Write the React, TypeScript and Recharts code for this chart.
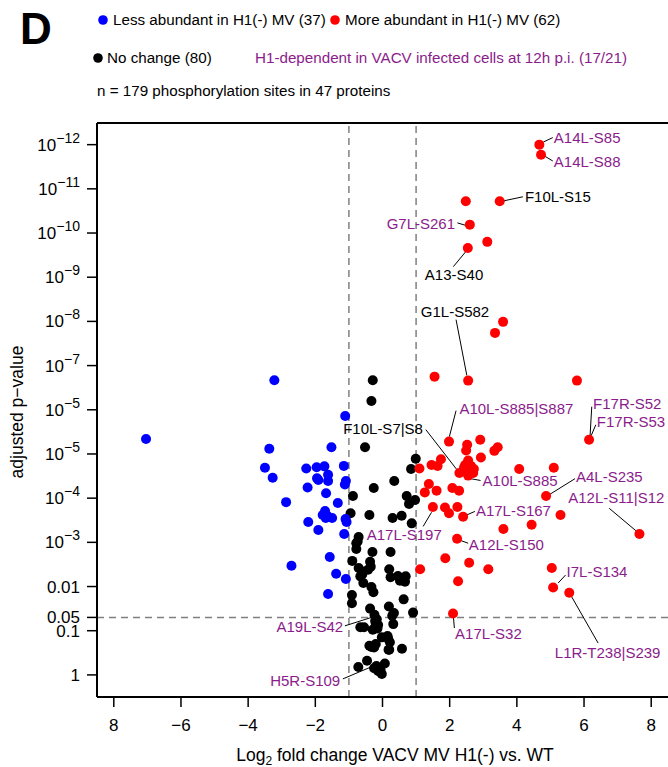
import { ReferenceLine, Scatter, ScatterChart, XAxis, YAxis } from 'recharts';

const FONT = '"Liberation Sans", Arial, sans-serif';
const PURPLE = '#8B1C8B';

// x = log2 fold change, y = -log10(adjusted p-value)
const lessAbundant = [
  { x: -7.04, y: 5.34 }, { x: -3.22, y: 6.67 }, { x: -1.11, y: 5.86 }, { x: -3.37, y: 5.12 },
  { x: -1.52, y: 5.15 }, { x: -3.5, y: 4.69 }, { x: -3.27, y: 4.46 }, { x: -2.27, y: 4.67 },
  { x: -1.96, y: 4.7 }, { x: -1.73, y: 4.72 }, { x: -1.15, y: 4.73 }, { x: -1.62, y: 4.53 },
  { x: -1.91, y: 4.41 }, { x: -1.62, y: 4.39 }, { x: -1.09, y: 4.39 }, { x: -1.12, y: 4.31 },
  { x: -2.23, y: 4.24 }, { x: -1.68, y: 4.11 }, { x: -2.87, y: 3.91 }, { x: -1.33, y: 3.89 },
  { x: -1.71, y: 3.71 }, { x: -1.78, y: 3.62 }, { x: -1.63, y: 3.58 }, { x: -1.5, y: 3.55 },
  { x: -1.69, y: 3.55 }, { x: -1.1, y: 3.53 }, { x: -2.21, y: 3.46 }, { x: -1.07, y: 3.46 },
  { x: -1.91, y: 3.28 }, { x: -1.14, y: 3.19 }, { x: -1.57, y: 2.67 }, { x: -2.71, y: 2.47 },
  { x: -1.38, y: 2.29 }, { x: -1.09, y: 2.17 }, { x: -1.62, y: 1.83 }, { x: -1.65, y: 3.6 },
  { x: -1.95, y: 4.45 },
];

const noChange = [
  { x: -0.29, y: 6.67 }, { x: -0.33, y: 6.2 }, { x: -0.52, y: 5.15 }, { x: 0.99, y: 4.89 },
  { x: 0.85, y: 4.66 }, { x: 0.35, y: 4.39 }, { x: -0.26, y: 4.23 }, { x: -0.88, y: 4.05 },
  { x: 0.72, y: 4.05 }, { x: 0.97, y: 3.96 }, { x: 0.79, y: 3.87 }, { x: -0.95, y: 3.66 },
  { x: -0.39, y: 3.62 }, { x: 0.3, y: 3.55 }, { x: 0.57, y: 3.6 }, { x: 0.87, y: 3.43 },
  { x: -0.71, y: 3.12 }, { x: -0.74, y: 3.02 }, { x: -0.78, y: 2.85 }, { x: -0.3, y: 2.78 },
  { x: 0.24, y: 2.78 }, { x: -0.9, y: 2.58 }, { x: -0.37, y: 2.56 }, { x: -0.71, y: 2.42 },
  { x: -0.6, y: 2.34 }, { x: -0.43, y: 2.38 }, { x: 0.2, y: 2.39 }, { x: -0.66, y: 2.23 },
  { x: 0.24, y: 2.21 }, { x: 0.46, y: 2.24 }, { x: 0.69, y: 2.23 }, { x: 0.52, y: 2.13 },
  { x: 0.67, y: 2.11 }, { x: -0.57, y: 2.08 }, { x: -0.33, y: 1.99 }, { x: -0.27, y: 1.87 },
  { x: -0.91, y: 1.81 }, { x: -0.91, y: 1.62 }, { x: 0.63, y: 1.71 }, { x: -0.37, y: 1.5 },
  { x: 0.19, y: 1.55 }, { x: 0.34, y: 1.4 }, { x: 0.91, y: 1.41 }, { x: -0.24, y: 1.36 },
  { x: -0.17, y: 1.26 }, { x: 0.29, y: 1.34 }, { x: -0.2, y: 1.15 }, { x: -0.66, y: 1.08 },
  { x: -0.55, y: 1.08 }, { x: -0.13, y: 1.13 }, { x: -0.29, y: 1.02 }, { x: 0.32, y: 1.15 },
  { x: -0.02, y: 0.85 }, { x: 0.15, y: 0.88 }, { x: 0.22, y: 0.74 }, { x: 0.58, y: 0.59 },
  { x: -0.39, y: 0.66 }, { x: -0.2, y: 0.7 }, { x: -0.46, y: 0.32 }, { x: -0.72, y: 0.18 },
  { x: -0.25, y: 0.15 }, { x: -0.13, y: 0.09 }, { x: 0.07, y: 0.26 }, { x: -0.02, y: 0.02 },
  { x: -0.07, y: 0.07 }, { x: 0.18, y: 0.57 }, { x: -0.35, y: 2.45 }, { x: -0.6, y: 2.28 },
  { x: -0.22, y: 1.22 }, { x: -0.15, y: 1.05 }, { x: -0.22, y: 1.06 }, { x: 0.17, y: 0.82 },
  { x: -0.25, y: 0.62 }, { x: -0.33, y: 0.63 }, { x: 0.2, y: 0.57 }, { x: -0.06, y: 0.12 },
  { x: -0.18, y: 0.2 }, { x: 0.55, y: 2.17 }, { x: 0.62, y: 2.19 }, { x: -0.78, y: 2.98 },
];

const moreAbundant = [
  { x: 4.67, y: 12.0 }, { x: 4.72, y: 11.77 }, { x: 2.48, y: 10.72 }, { x: 3.49, y: 10.72 },
  { x: 2.6, y: 10.19 }, { x: 3.12, y: 9.8 }, { x: 2.54, y: 9.66 }, { x: 3.59, y: 7.99 },
  { x: 3.35, y: 7.74 }, { x: 1.55, y: 6.75 }, { x: 2.55, y: 6.66 }, { x: 5.79, y: 6.66 },
  { x: 6.15, y: 5.32 }, { x: 1.98, y: 5.28 }, { x: 2.91, y: 5.32 }, { x: 2.49, y: 5.08 },
  { x: 3.43, y: 5.15 }, { x: 3.33, y: 5.07 }, { x: 2.93, y: 4.92 }, { x: 1.74, y: 4.88 },
  { x: 2.55, y: 4.85 }, { x: 1.46, y: 4.75 }, { x: 1.64, y: 4.73 }, { x: 1.1, y: 4.67 },
  { x: 2.63, y: 4.73 }, { x: 2.43, y: 4.7 }, { x: 2.72, y: 4.66 }, { x: 2.51, y: 4.64 },
  { x: 2.29, y: 4.57 }, { x: 2.55, y: 4.51 }, { x: 2.46, y: 4.6 }, { x: 4.07, y: 4.66 },
  { x: 5.1, y: 4.69 }, { x: 1.38, y: 4.32 }, { x: 1.26, y: 4.13 }, { x: 1.61, y: 4.17 },
  { x: 2.08, y: 4.23 }, { x: 2.28, y: 4.17 }, { x: 4.87, y: 4.05 }, { x: 1.5, y: 3.8 },
  { x: 1.86, y: 3.79 }, { x: 1.98, y: 3.66 }, { x: 2.23, y: 3.8 }, { x: 2.4, y: 3.58 },
  { x: 5.3, y: 3.62 }, { x: 3.6, y: 3.3 }, { x: 4.44, y: 3.4 }, { x: 7.65, y: 3.19 },
  { x: 2.22, y: 3.08 }, { x: 1.87, y: 2.64 }, { x: 2.58, y: 2.54 }, { x: 3.15, y: 2.39 },
  { x: 1.12, y: 2.39 }, { x: 5.04, y: 2.42 }, { x: 2.25, y: 2.12 }, { x: 5.08, y: 1.98 },
  { x: 5.56, y: 1.86 }, { x: 2.1, y: 1.39 }, { x: 2.52, y: 5.21 }, { x: 2.46, y: 4.75 },
  { x: 2.65, y: 4.64 }, { x: 2.7, y: 4.57 },
];

// site labels: text anchor position (data units) and leader line ends
const siteLabels = [
  { text: 'A14L-S85', purple: true, x: 5.1, y: 12.16, anchor: 'start', line: [4.79, 12.06, 5.07, 12.16] },
  { text: 'A14L-S88', purple: true, x: 5.1, y: 11.61, anchor: 'start', line: [4.81, 11.75, 5.07, 11.63] },
  { text: 'F10L-S15', purple: false, x: 4.24, y: 10.82, anchor: 'start', line: [3.62, 10.73, 4.18, 10.82] },
  { text: 'G7L-S261', purple: true, x: 2.16, y: 10.21, anchor: 'end', line: [2.23, 10.23, 2.49, 10.17] },
  { text: 'A13-S40', purple: false, x: 2.13, y: 9.06, anchor: 'middle', line: [2.48, 9.58, 2.11, 9.24] },
  { text: 'G1L-S582', purple: false, x: 1.14, y: 8.22, anchor: 'start', line: [2.19, 8.04, 2.51, 6.78] },
  { text: 'F17R-S52', purple: true, x: 6.27, y: 6.14, anchor: 'start', line: [6.23, 6.07, 6.18, 5.41] },
  { text: 'F17R-S53', purple: true, x: 6.38, y: 5.73, anchor: 'start', line: [6.35, 5.66, 6.21, 5.41] },
  { text: 'A10L-S885|S887', purple: true, x: 2.29, y: 6.02, anchor: 'start', line: [2.19, 5.98, 1.99, 5.39] },
  { text: 'F10L-S7|S8', purple: false, x: -1.17, y: 5.56, anchor: 'start', line: [1.29, 5.55, 2.23, 4.63] },
  { text: 'A10L-S885', purple: true, x: 2.98, y: 4.39, anchor: 'start', line: [2.63, 4.44, 2.92, 4.4] },
  { text: 'A4L-S235', purple: true, x: 5.76, y: 4.48, anchor: 'start', line: [4.99, 4.09, 5.73, 4.44] },
  { text: 'A12L-S11|S12', purple: true, x: 5.53, y: 4.0, anchor: 'start', line: [6.75, 3.77, 7.58, 3.24] },
  { text: 'A17L-S167', purple: true, x: 2.78, y: 3.72, anchor: 'start', line: [2.51, 3.62, 2.75, 3.7] },
  { text: 'A17L-S197', purple: true, x: -0.47, y: 3.17, anchor: 'start', line: [1.21, 3.36, 1.46, 3.68] },
  { text: 'A12L-S150', purple: true, x: 2.57, y: 2.93, anchor: 'start', line: [2.26, 3.06, 2.55, 2.98] },
  { text: 'I7L-S134', purple: true, x: 5.48, y: 2.32, anchor: 'start', line: [5.23, 2.08, 5.45, 2.26] },
  { text: 'L1R-T238|S239', purple: true, x: 5.13, y: 0.49, anchor: 'start', line: [5.6, 1.81, 6.42, 0.72] },
  { text: 'A17L-S32', purple: true, x: 2.16, y: 0.93, anchor: 'start', line: [2.11, 1.32, 2.14, 1.06] },
  { text: 'A19L-S42', purple: true, x: -1.17, y: 1.08, anchor: 'end', line: [-1.12, 1.11, -0.25, 1.32] },
  { text: 'H5R-S109', purple: true, x: -1.26, y: -0.14, anchor: 'end', line: [-1.18, -0.09, -0.34, 0.18] },
];

const xTicks = [-8, -6, -4, -2, 0, 2, 4, 6, 8];
const xTickLabels = ['8', '−6', '−4', '−2', '0', '2', '4', '6', '8'];
const yTicks = [0, 1, 1.301, 2, 3, 4, 5, 6, 7, 8, 9, 10, 11, 12];
const yTickLabels = ['1', '0.1', '0.05', '0.01', '10^−3', '10^−4', '10^−5', '10^−5', '10^−7', '10^−8', '10^−9', '10^−10', '10^−11', '10^−12'];

const dot = (fill: string) => (props: any) =>
  <circle cx={props.cx} cy={props.cy} r={5} fill={fill} />;

const YTick = (props: any) => {
  const { x, y, payload } = props;
  const i = yTicks.findIndex((t) => Math.abs(t - payload.value) < 1e-6);
  const [base, sup] = (yTickLabels[i] || '').split('^');
  return (
    <text x={x} y={y + 6} textAnchor="end" fontSize={17} fontFamily={FONT} fill="#000">
      {base}
      {sup && <tspan dy={-8} fontSize={14}>{sup}</tspan>}
    </text>
  );
};

const LabelText = (props: any) => {
  const p = props.payload;
  return (
    <text x={props.cx} y={props.cy} dy={5} textAnchor={p.anchor} fontSize={15} fontFamily={FONT}
      fill={p.purple ? PURPLE : '#000'}>
      {p.text}
    </text>
  );
};

export default function App() {
  const dash = { stroke: '#808080', strokeWidth: 1.5, strokeDasharray: '7 5' };
  return (
    <div style={{ position: 'absolute', left: 0, top: 0, width: 668, height: 767, background: '#fff' }}>
      <ScatterChart width={668} height={767} margin={{ top: 123, right: 0, bottom: 0, left: 0 }}>
        <XAxis type="number" dataKey="x" domain={[-8.5, 8.5]} ticks={xTicks} interval={0}
          tickFormatter={(v: number) => xTickLabels[xTicks.indexOf(v)]}
          height={70} tickSize={10} tickMargin={12}
          axisLine={{ stroke: '#000', strokeWidth: 2 }} tickLine={{ stroke: '#000', strokeWidth: 1.5 }}
          tick={{ fill: '#000', fontSize: 17, fontFamily: FONT }} />
        <YAxis type="number" dataKey="y" domain={[-0.5, 12.49]} ticks={yTicks} interval={0}
          width={97} tickSize={10} tickMargin={7}
          axisLine={{ stroke: '#000', strokeWidth: 2 }} tickLine={{ stroke: '#000', strokeWidth: 1.5 }}
          tick={<YTick />} />
        <ReferenceLine y={12.49} stroke="#000" strokeWidth={2} />
        <ReferenceLine x={-1} {...dash} />
        <ReferenceLine x={1} {...dash} />
        <ReferenceLine y={1.301} {...dash} />
        {siteLabels.map((l) => (
          <ReferenceLine key={l.text} segment={[{ x: l.line[0], y: l.line[1] }, { x: l.line[2], y: l.line[3] }]}
            stroke="#000" strokeWidth={1} ifOverflow="visible" />
        ))}
        <Scatter data={noChange} fill="#000" shape={dot('#000')} isAnimationActive={false} />
        <Scatter data={lessAbundant} fill="#0000FF" shape={dot('#0000FF')} isAnimationActive={false} />
        <Scatter data={moreAbundant} fill="#FF0000" shape={dot('#FF0000')} isAnimationActive={false} />
        <Scatter data={siteLabels} shape={LabelText} isAnimationActive={false} />
      </ScatterChart>
      <svg width={668} height={767} style={{ position: 'absolute', left: 0, top: 0, pointerEvents: 'none' }}
        fontFamily={FONT}>
        <text x={20} y={44} fontSize={44} fontWeight="bold">D</text>
        <circle cx={103} cy={20} r={4.8} fill="#0000FF" />
        <text x={113} y={25} fontSize={15.2}>Less abundant in H1(-) MV (37)</text>
        <circle cx={335} cy={20} r={4.8} fill="#FF0000" />
        <text x={345} y={25} fontSize={15.2}>More abundant in H1(-) MV (62)</text>
        <circle cx={98} cy={58} r={4.8} fill="#000" />
        <text x={107} y={63} fontSize={15.2}>No change (80)</text>
        <text x={255} y={63} fontSize={15.2} fill={PURPLE}>H1-dependent in VACV infected cells at 12h p.i. (17/21)</text>
        <text x={97} y={96} fontSize={15.2}>n = 179 phosphorylation sites in 47 proteins</text>
        <text x={17} y={412} fontSize={17.5} textAnchor="middle" dominantBaseline="central"
          transform="rotate(-90 17 412)">adjusted p−value</text>
        <text x={395} y={761} fontSize={17.5} textAnchor="middle">
          Log<tspan fontSize={12} dy={4}>2</tspan><tspan dy={-4}> fold change VACV MV H1(-) vs. WT</tspan>
        </text>
      </svg>
    </div>
  );
}
